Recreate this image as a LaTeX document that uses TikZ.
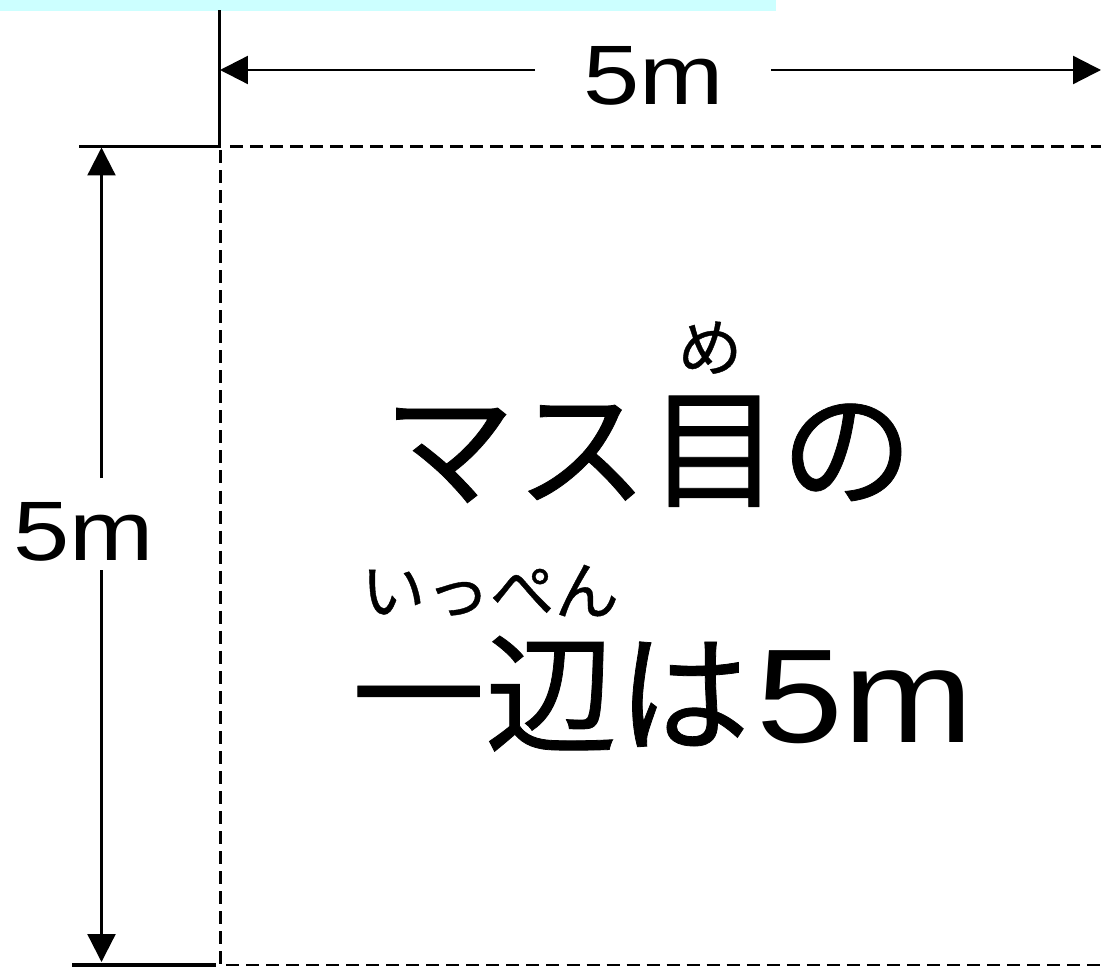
\documentclass[tikz,border=0pt]{standalone}
\usepackage{fontspec}
\usetikzlibrary{arrows.meta}
\newfontfamily\jp[FakeStretch=1.02,FakeBold=0.6]{Noto Sans CJK JP}
\newfontfamily\lat[FakeStretch=1.2]{Liberation Sans}
\newfontfamily\latbig[FakeStretch=1.17]{Liberation Sans}
\definecolor{barcyan}{HTML}{CCFFFF}
\tikzset{
  frame/.style={line width=2pt, line cap=rect},
  guide/.style={line width=1.4pt, dash pattern=on 7.4pt off 4pt},
  dimarrow/.style={line width=1.3pt, -{Triangle[length=15.9pt,width=15.9pt]}},
  dimlabel/.style={font=\lat\fontsize{48}{50}\selectfont, inner sep=0pt, anchor=base},
  bigtext/.style={font=\jp\fontsize{74}{80}\selectfont, inner sep=0pt, anchor=base},
  rubytext/.style={font=\jp\fontsize{36}{40}\selectfont, inner sep=0pt, anchor=base}
}
\begin{document}
\begin{tikzpicture}[x=0.02cm,y=-0.02cm]
\useasboundingbox (0,0) rectangle (1101,966);
% cyan bar
\fill[barcyan] (0,0) rectangle (776,11.5);
% corner coordinates
\coordinate (ctop) at (219.5,12);
\coordinate (corner) at (219.5,146.5);
\coordinate (hleft) at (81,146.5);
\coordinate (bleft) at (74,965);
\coordinate (bmid) at (214,965);
\coordinate (bdash) at (226,965);
\coordinate (bright) at (1101,965);
\coordinate (tdash) at (230,146.5);
\coordinate (tright) at (1101,146.5);
\coordinate (vdtop) at (220.5,150);
\coordinate (vdbot) at (220.5,966);
% solid frame lines
\draw[frame] (ctop) -- (corner) -- (hleft);
\draw[frame] (bleft) -- (bmid);
% dashed guide lines
\draw[guide] (tdash) -- (tright);
\draw[guide] (vdtop) -- (vdbot);
\draw[guide] (bdash) -- (bright);
% horizontal dimension
\node[dimlabel] (htext) at (654,105) {5m};
\coordinate (hl1) at (535,70);
\coordinate (htipL) at (220,70);
\coordinate (hr1) at (771,70);
\coordinate (htipR) at (1101,70);
\draw[dimarrow] (hl1) -- (htipL);
\draw[dimarrow] (hr1) -- (htipR);
% vertical dimension
\node[dimlabel] (vtext) at (84,560) {5m};
\coordinate (vt1) at (101.5,478);
\coordinate (vtipT) at (101.5,147.5);
\coordinate (vb1) at (101.5,570);
\coordinate (vtipB) at (101.5,962);
\draw[dimarrow] (vt1) -- (vtipT);
\draw[dimarrow] (vb1) -- (vtipB);
% main text
\node[bigtext] (line1) at (648,497) {マス目の};
\node[rubytext] (ruby1) at (710,371) {め};
\node[bigtext] (line2) at (663,742) {一辺は\hspace{4pt}{\latbig\fontsize{76}{80}\selectfont 5m}};
\node[rubytext] (ruby2) at (490,614) {いっぺん};
\end{tikzpicture}
\end{document}
